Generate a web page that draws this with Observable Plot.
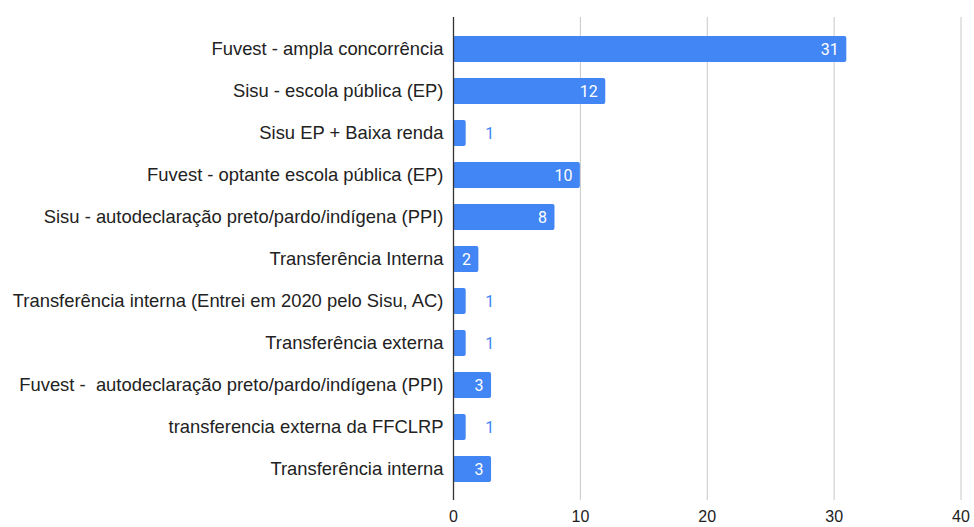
<!DOCTYPE html>
<html>
<head>
<meta charset="utf-8">
<script src="https://cdn.jsdelivr.net/npm/d3@7"></script>
<script src="https://cdn.jsdelivr.net/npm/@observablehq/plot@0.6"></script>
<style>
  html, body { margin: 0; padding: 0; background: #fff; }
  svg { display: block; }
</style>
</head>
<body>
<div id="chart"></div>
<script>
const categories = [
  "Fuvest - ampla concorrência",
  "Sisu - escola pública (EP)",
  "Sisu EP + Baixa renda",
  "Fuvest - optante escola pública (EP)",
  "Sisu - autodeclaração preto/pardo/indígena (PPI)",
  "Transferência Interna",
  "Transferência interna (Entrei em 2020 pelo Sisu, AC)",
  "Transferência externa",
  "Fuvest -  autodeclaração preto/pardo/indígena (PPI)",
  "transferencia externa da FFCLRP",
  "Transferência interna"
];
const values = [31, 12, 1, 10, 8, 2, 1, 1, 3, 1, 3];
const xTicks = [0, 10, 20, 30, 40];
const gridTicks = [10, 20, 30, 40];

const data = categories.map((c, i) => ({cat: c, value: values[i]}));
const inside = data.filter(d => d.value >= 2);
const outside = data.filter(d => d.value < 2);

const blue = "#4285F4";

const chart = Plot.plot({
  width: 974,
  height: 527,
  marginLeft: 453,
  marginRight: 13.5,
  marginTop: 17,
  marginBottom: 27,
  style: {fontFamily: "'Liberation Sans', Arial, sans-serif", background: "#fff"},
  x: {domain: [0, 40], label: null},
  y: {domain: categories, paddingInner: 0.39, paddingOuter: 0.375, label: null},
  marks: [
    Plot.ruleX(gridTicks, {stroke: "#c8c8c8", strokeWidth: 1}),
    Plot.barX(data, {x: "value", y: "cat", fill: blue, rx: 2}),
    Plot.ruleX([0], {stroke: "#333", strokeWidth: 1.3}),
    Plot.text(inside, {x: "value", y: "cat", text: d => String(d.value), textAnchor: "end", dx: -8, fill: "#fff", fontSize: 16, fontFamily: "Roboto, sans-serif"}),
    Plot.text(outside, {x: "value", y: "cat", text: d => String(d.value), textAnchor: "start", dx: 19, fill: blue, fontSize: 16, fontFamily: "Roboto, sans-serif"}),
    Plot.axisX(xTicks, {tickSize: 0, tickPadding: 10, fontSize: 16, label: null, fill: "#222"}),
    Plot.axisY({tickSize: 0, tickPadding: 10, fontSize: 18.4, label: null, fill: "#222"})
  ]
});
document.getElementById("chart").appendChild(chart);
</script>
</body>
</html>
